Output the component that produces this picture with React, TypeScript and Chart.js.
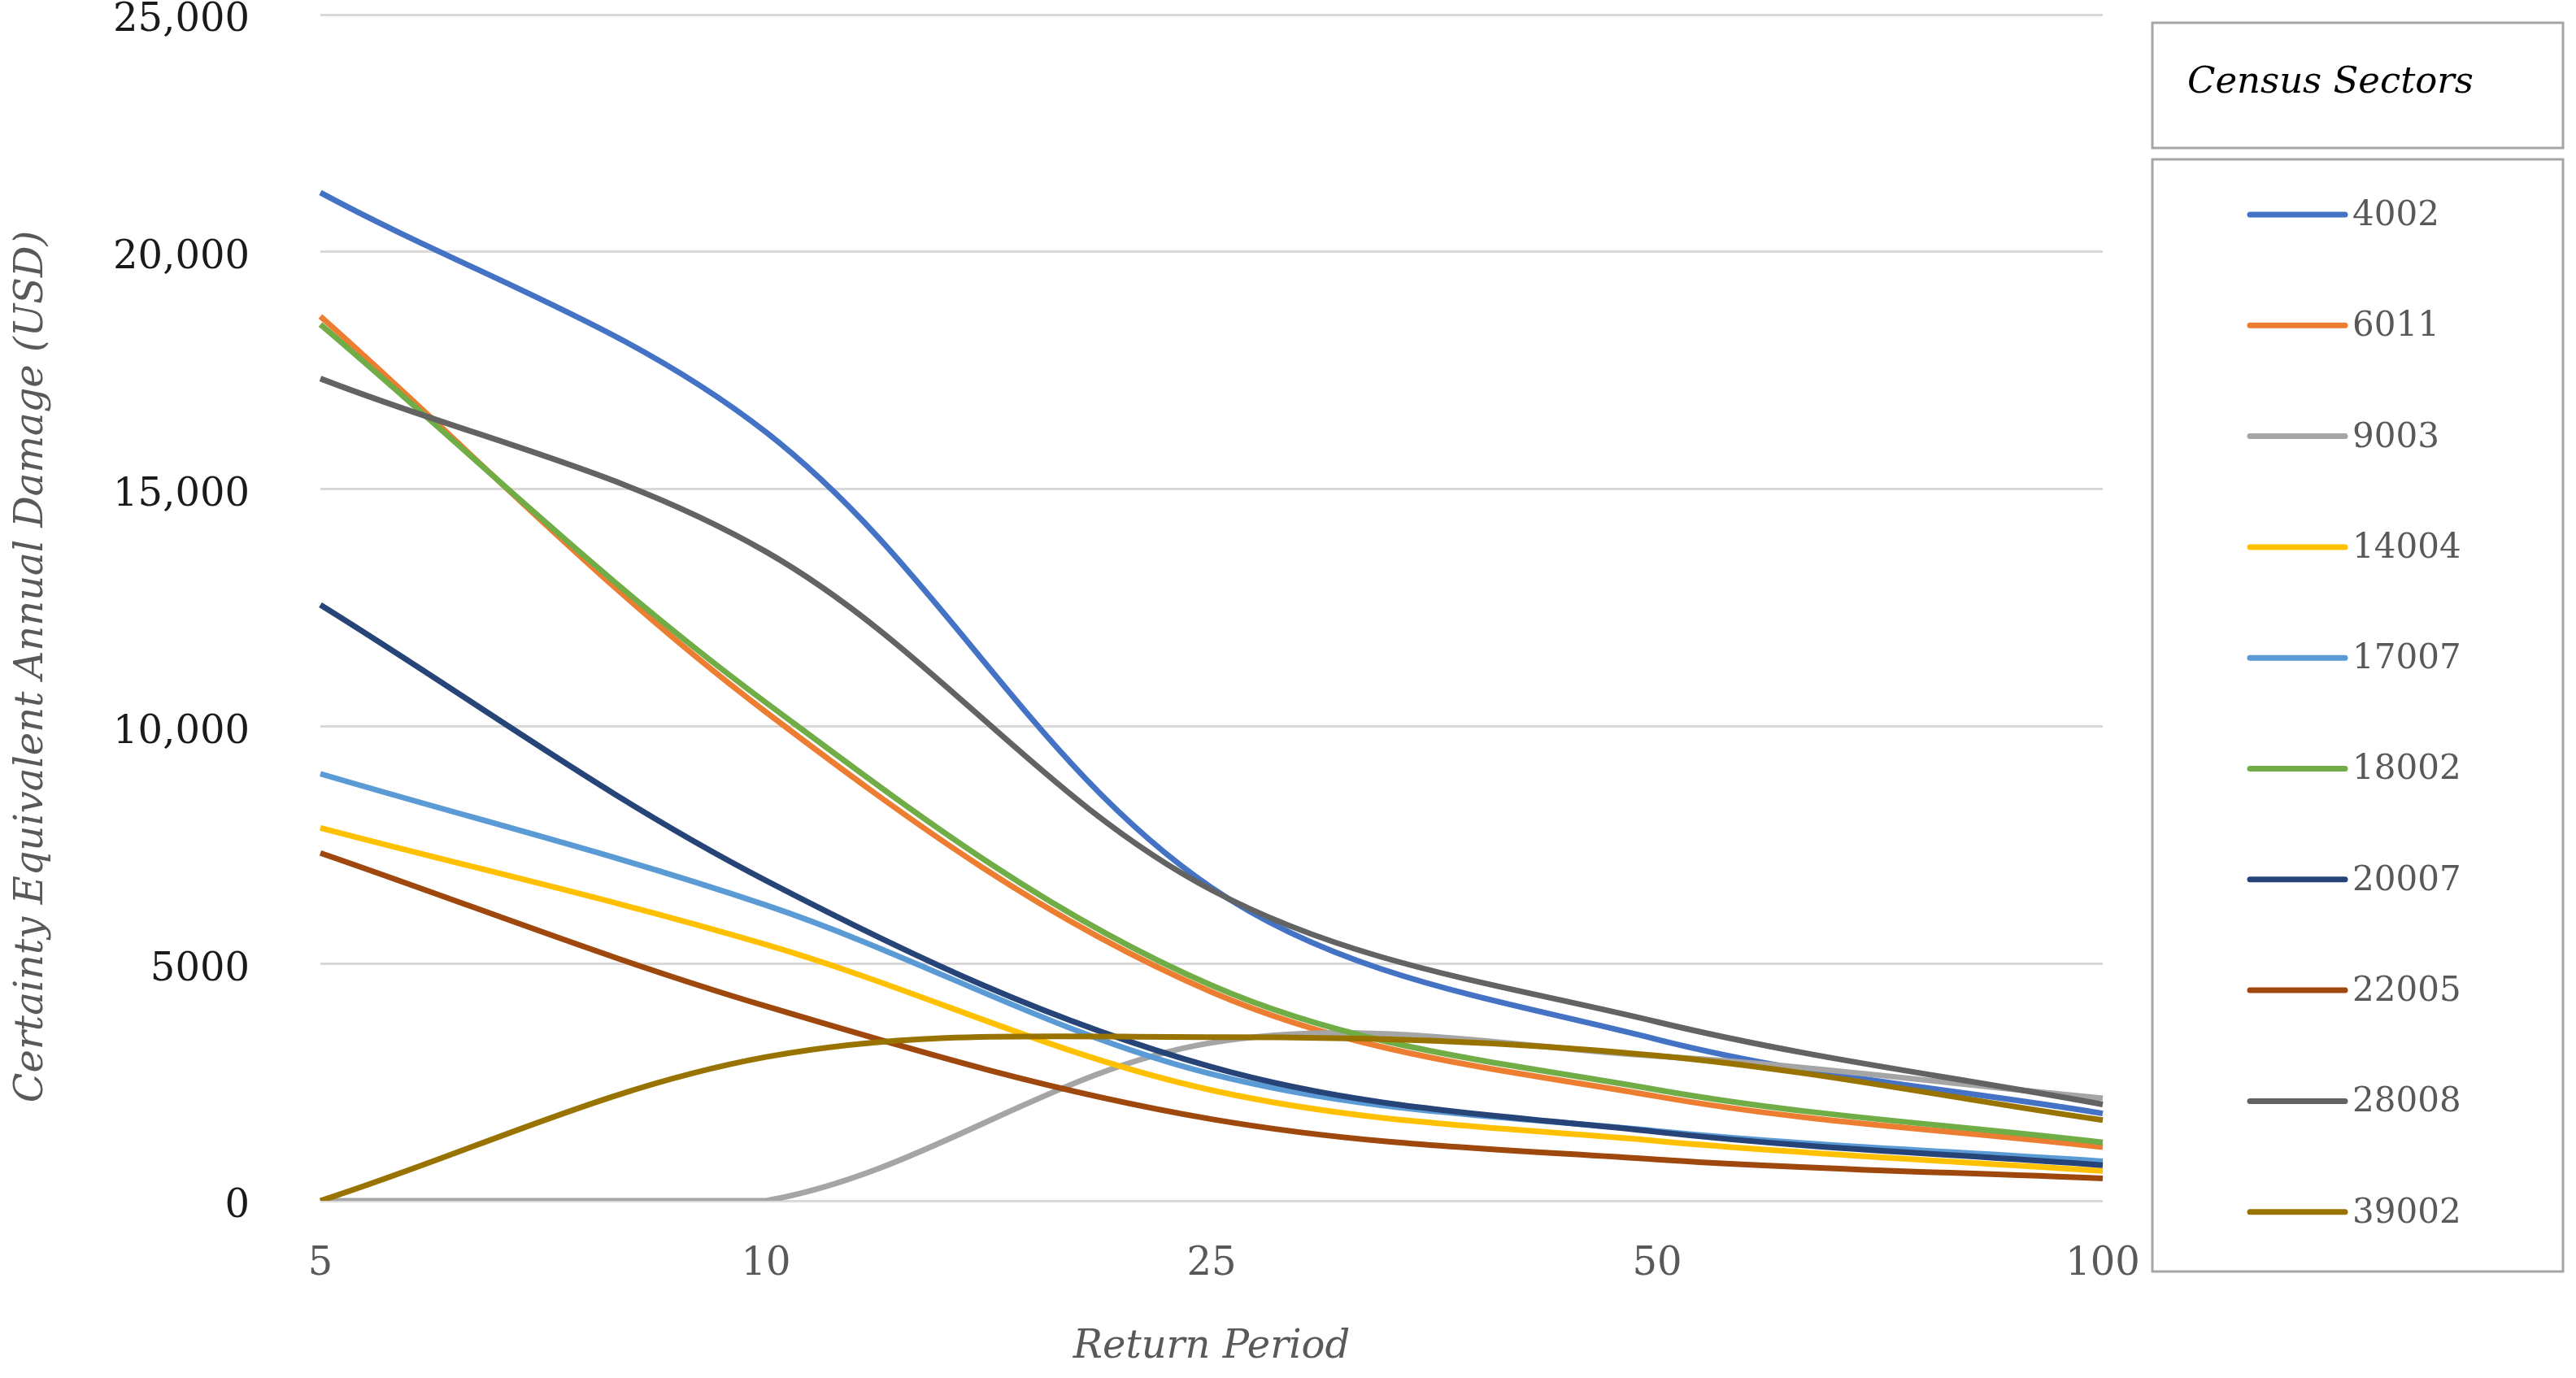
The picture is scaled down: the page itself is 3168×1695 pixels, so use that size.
import React, { useEffect, useRef } from 'react';
import { Chart, registerables } from 'chart.js';

Chart.register(...registerables);

// ---- data ----
const returnPeriods = ['5', '10', '25', '50', '100'];
const sectorNames = ['4002', '6011', '9003', '14004', '17007', '18002', '20007', '22005', '28008', '39002'];
const s4002 = [21250, 16200, 6600, 3400, 1840];
const s6011 = [18640, 10300, 4400, 2200, 1130];
const s9003 = [0, 0, 3330, 3050, 2160];
const s14004 = [7860, 5400, 2330, 1260, 630];
const s17007 = [9000, 6230, 2670, 1470, 830];
const s18002 = [18470, 10500, 4540, 2340, 1230];
const s20007 = [12560, 6750, 2820, 1450, 750];
const s22005 = [7330, 4100, 1720, 870, 470];
const s28008 = [17330, 13680, 6550, 3770, 2030];
const s39002 = [0, 3030, 3450, 3060, 1700];
const seriesValues = [s4002, s6011, s9003, s14004, s17007, s18002, s20007, s22005, s28008, s39002];
const seriesColors = ['#4472C4', '#ED7D31', '#A5A5A5', '#FFC000', '#5B9BD5', '#70AD47', '#264478', '#9E480E', '#636363', '#997300'];
const yTickValues = [0, 5000, 10000, 15000, 20000, 25000];
const yTitle = 'Certainty Equivalent Annual Damage (USD)';
const xTitle = 'Return Period';
const legendTitle = 'Census Sectors';

const FONT = "'DejaVu Serif', serif";
const PLOT_TOP = 18;

export default function App() {
  const ref = useRef<HTMLCanvasElement | null>(null);

  useEffect(() => {
    if (!ref.current) return;

    const areaPlugin = {
      id: 'fixArea',
      afterLayout(chart: any) {
        const y = chart.scales.y;
        const x = chart.scales.x;
        const ca = chart.chartArea;
        if (ca.top !== PLOT_TOP) {
          y.top = PLOT_TOP;
          y.height = y.bottom - PLOT_TOP;
          y.configure();
          ca.top = PLOT_TOP;
          ca.height = ca.bottom - PLOT_TOP;
          x.configure();
        }
      },
    };

    const yTitlePlugin = {
      id: 'yTitle',
      afterDraw(chart: any) {
        const ctx = chart.ctx as CanvasRenderingContext2D;
        ctx.save();
        ctx.translate(40, 820);
        ctx.rotate(-Math.PI / 2);
        ctx.fillStyle = '#595959';
        ctx.font = `italic 48px ${FONT}`;
        ctx.textAlign = 'center';
        ctx.textBaseline = 'middle';
        ctx.fillText(yTitle, 0, 0);
        ctx.restore();
      },
    };

    const legendPlugin = {
      id: 'sectorLegend',
      afterDraw(chart: any) {
        const ctx = chart.ctx as CanvasRenderingContext2D;
        ctx.save();
        const bx = 2647, bw = 505;
        ctx.strokeStyle = '#a6a6a6';
        ctx.lineWidth = 3;
        ctx.strokeRect(bx, 28, bw, 154);
        ctx.fillStyle = '#000000';
        ctx.font = `italic 45px ${FONT}`;
        ctx.textAlign = 'left';
        ctx.textBaseline = 'middle';
        ctx.fillText(legendTitle, 2690, 102);
        ctx.strokeRect(bx, 196, bw, 1368);
        const ds = chart.data.datasets;
        ctx.font = `42px ${FONT}`;
        ctx.lineCap = 'round';
        for (let i = 0; i < ds.length; i++) {
          const yy = 264 + i * 136.3;
          ctx.strokeStyle = ds[i].borderColor;
          ctx.lineWidth = 7;
          ctx.beginPath();
          ctx.moveTo(2767, yy);
          ctx.lineTo(2884, yy);
          ctx.stroke();
          ctx.fillStyle = '#595959';
          ctx.fillText(ds[i].label, 2893, yy + 2);
        }
        ctx.restore();
      },
    };

    const chart = new Chart(ref.current, {
      type: 'line',
      data: {
        labels: returnPeriods,
        datasets: sectorNames.map((name, i) => ({
          label: name,
          data: seriesValues[i],
          borderColor: seriesColors[i],
          backgroundColor: seriesColors[i],
          borderWidth: 7,
          pointRadius: 0,
          tension: 0.35,
          fill: false,
          order: sectorNames.length - i,
        })),
      },
      options: {
        animation: false,
        responsive: false,
        devicePixelRatio: 1,
        layout: { autoPadding: false, padding: { left: 0, right: 582, top: PLOT_TOP, bottom: 0 } },
        plugins: {
          legend: { display: false },
          tooltip: { enabled: false },
        },
        scales: {
          x: {
            offset: false,
            grid: { display: false, drawTicks: false },
            border: { display: false },
            ticks: {
              color: '#595959',
              font: { family: FONT, size: 48 },
              padding: 50,
              maxRotation: 0,
            },
            title: {
              display: true,
              text: xTitle,
              color: '#595959',
              font: { family: FONT, size: 48, style: 'italic' },
              padding: { top: 0, bottom: 9 },
            },
            afterFit: (scale: any) => {
              scale.height = 218;
            },
          },
          y: {
            min: 0,
            max: 25000,
            afterBuildTicks: (scale: any) => {
              scale.ticks = yTickValues.map((v) => ({ value: v }));
            },
            grid: { color: '#d9d9d9', lineWidth: 3, drawTicks: false },
            border: { display: false },
            ticks: {
              color: '#1a1a1a',
              font: { family: FONT, size: 48 },
              padding: 87,
              labelOffset: 8,
              callback: (v: any) => (Number(v) >= 10000 ? Number(v).toLocaleString('en-US') : String(v)),
            },
            title: { display: false },
            afterFit: (scale: any) => {
              scale.width = 394;
            },
          },
        },
      },
      plugins: [areaPlugin, yTitlePlugin, legendPlugin],
    });

    return () => chart.destroy();
  }, []);

  return (
    <div style={{ position: 'absolute', left: 0, top: 0, width: 3168, height: 1695, background: '#ffffff' }}>
      <canvas ref={ref} width={3168} height={1695} style={{ width: 3168, height: 1695, display: 'block' }} />
    </div>
  );
}
